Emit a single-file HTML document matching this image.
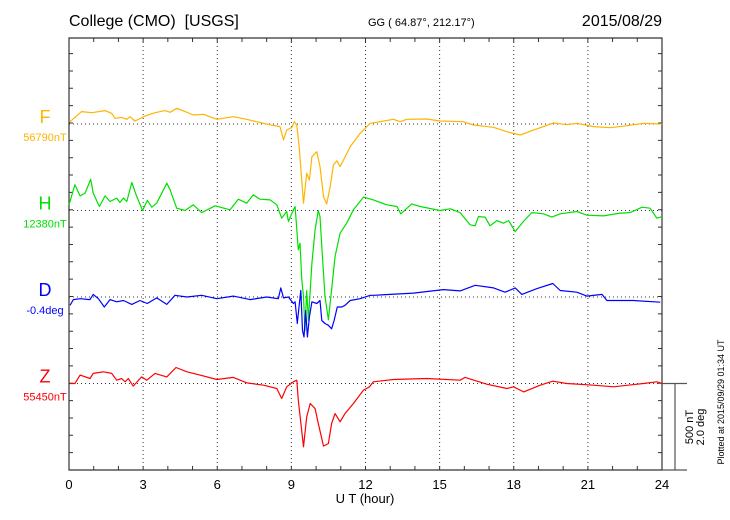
<!DOCTYPE html>
<html><head><meta charset="utf-8">
<style>
body{margin:0;background:#fff;}
svg{display:block;font-family:"Liberation Sans",sans-serif;}
</style></head>
<body>
<svg id="chart" width="730" height="520" viewBox="0 0 730 520">
<text x="69" y="26" font-size="16" fill="#000">College (CMO)&#160; [USGS]</text>
<text x="368" y="26" font-size="11" fill="#000">GG ( 64.87°, 212.17°)</text>
<text x="662" y="26" font-size="16" fill="#000" text-anchor="end">2015/08/29</text>
<text x="365" y="503" font-size="13" text-anchor="middle">U T (hour)</text>
<text transform="translate(693,427) rotate(-90)" font-size="11" text-anchor="middle">500 nT</text>
<text transform="translate(704,427) rotate(-90)" font-size="11" text-anchor="middle">2.0 deg</text>
<text transform="translate(724,402) rotate(-90)" font-size="9" text-anchor="middle">Plotted at 2015/09/29 01:34 UT</text>
<g id="grid"></g><g id="axes"></g><g id="series"></g><g id="labels"></g>
</svg>
<script>
const xTicks = [0,3,6,9,12,15,18,21,24];
const seriesNames = ["F","H","D","Z"];
const seriesBaseLabels = ["56790nT","12380nT","-0.4deg","55450nT"];
const fTimes = [0.04,0.51,0.92,1.46,1.73,1.86,2.13,2.34,2.47,2.67,3.08,3.48,3.89,4.09,4.36,4.70,5.03,5.44,5.98,6.65,7.19,7.73,8.27,8.54,8.68,8.81,9.02,9.12,9.22,9.32,9.49,9.62,9.73,9.83,9.96,10.03,10.16,10.30,10.43,10.57,10.70,10.84,10.97,11.11,11.38,11.78,12.19,12.59,13.13,13.4,13.67,14.48,15.02,15.96,16.37,17.18,17.72,18.26,18.80,19.61,20.15,20.55,21.23,21.90,22.58,23.25,24.0];
const fValues = [13,71,65,77,61,33,38,27,42,17,46,65,77,67,90,71,52,56,27,42,27,8,-8,-15,-92,-35,-19,13,-6,-140,-456,-284,-322,-188,-169,-159,-245,-418,-460,-360,-236,-211,-245,-207,-130,-54,4,13,27,13,27,29,17,13,-6,-19,-44,-63,-35,6,-4,4,-15,-21,-10,4,0];
const hTimes = [0,0.24,0.45,0.65,0.88,0.98,1.23,1.46,1.66,1.93,2.06,2.20,2.34,2.54,2.74,2.98,3.17,3.35,3.55,3.96,4.09,4.36,4.70,5.03,5.37,5.91,6.52,6.85,7.19,7.46,7.73,8.14,8.41,8.61,8.81,8.88,9.08,9.15,9.28,9.35,9.42,9.49,9.55,9.62,9.69,9.76,9.83,9.96,10.09,10.16,10.23,10.36,10.50,10.63,10.77,10.97,11.24,11.51,11.92,12.32,12.86,13.27,13.43,13.87,14.21,15.02,15.43,15.83,16.23,16.44,16.57,16.84,17.04,17.32,17.58,17.79,18.06,18.39,18.73,19.20,19.54,19.88,20.55,20.96,21.63,22.31,22.71,23.19,23.52,23.79,24.0];
const hValues = [33,148,84,100,180,100,23,84,52,71,46,71,52,161,81,0,58,19,42,157,119,13,0,33,-12,27,4,65,42,90,65,61,33,-44,-6,-63,4,23,-226,-188,-399,-494,-690,-460,-632,-460,-303,-111,0,-35,-207,-494,-628,-454,-263,-130,-73,4,77,61,33,23,-19,38,23,0,10,-12,-82,-88,-35,-38,-88,-58,-73,-58,-121,-63,-12,-19,-38,-19,-6,-27,-31,-15,-12,19,13,-44,-35];
const dTimes = [0.04,0.18,0.45,0.85,0.98,1.19,1.43,1.66,1.93,2.20,2.54,2.87,3.17,3.55,3.96,4.29,4.77,5.37,5.98,6.65,7.33,8.0,8.47,8.57,8.68,8.88,9.08,9.15,9.24,9.31,9.38,9.45,9.51,9.58,9.65,9.73,9.83,10.03,10.16,10.23,10.36,10.50,10.63,10.73,10.86,11.04,11.17,11.38,11.78,12.19,12.32,13.0,13.94,15.15,15.83,16.44,17.18,17.65,18.06,18.33,18.93,19.58,19.88,20.55,20.96,21.57,21.77,22.85,23.93];
const dValues = [-0.19,-0.06,-0.04,-0.06,0.06,-0.04,-0.23,-0.06,-0.11,-0.08,-0.17,-0.08,-0.15,-0.02,-0.17,0.04,0,0.04,-0.04,0.02,-0.06,0,-0.04,0.21,-0.02,0,-0.15,-0.11,-0.61,-0.23,0.15,-0.77,-0.92,-0.31,-0.92,-0.46,-0.11,-0.15,-0.08,-0.54,-0.61,-0.65,-0.73,-0.54,-0.23,-0.23,-0.19,-0.08,-0.04,0.04,0.04,0.06,0.09,0.17,0.14,0.27,0.21,0.11,0.21,0.06,0.19,0.31,0.15,0.11,0.02,0.06,-0.08,-0.08,-0.12];
const zTimes = [0.04,0.24,0.45,0.85,0.98,1.39,1.73,1.93,2.13,2.27,2.40,2.60,2.94,3.15,3.48,3.96,4.33,4.77,5.30,5.98,6.65,7.19,7.87,8.41,8.61,8.81,9.08,9.22,9.28,9.49,9.62,9.76,9.96,10.09,10.30,10.50,10.63,10.77,10.97,11.17,11.51,11.92,12.16,12.32,13.13,14.48,15.83,16.03,16.91,17.72,17.99,18.40,19.07,19.58,20.15,21.23,22.04,23.25,23.79,24.0];
const zValues = [0,0,48,29,58,67,58,19,29,10,29,-15,38,19,58,38,92,67,48,23,35,4,-10,-29,-86,-19,10,19,-96,-364,-192,-115,-144,-230,-360,-345,-230,-173,-220,-173,-115,-38,-19,10,23,29,19,35,-4,-29,-19,-48,-10,13,0,-10,-19,0,10,0];

const NS="http://www.w3.org/2000/svg";
const X0=69, X1=662, Y0=38, Y1=470;
const PX_PER_NT=87/500, PX_PER_DEG=87/2;
const baselines=[124,210.5,297,383.5];
const colors=["#ffb400","#00e000","#0000ff","#ff0000"];
const xScale=h=>X0+(X1-X0)*h/24;
function mk(tag,attrs,parent){const e=document.createElementNS(NS,tag);for(const k in attrs)e.setAttribute(k,attrs[k]);parent.appendChild(e);return e;}
const grid=document.getElementById('grid'),axes=document.getElementById('axes'),ser=document.getElementById('series'),lab=document.getElementById('labels');
xTicks.forEach(t=>{ if(t>0&&t<24){const l=mk('line',{x1:xScale(t),x2:xScale(t),y1:Y0,y2:Y1,stroke:'#333','stroke-width':1,'stroke-dasharray':'1,3'},grid);

}});
baselines.forEach(b=>{const l=mk('line',{x1:X0,x2:X1,y1:b,y2:b,stroke:'#333','stroke-width':1,'stroke-dasharray':'1,3'},grid);

});
const fr=mk('path',{d:`M${X0},${Y0}H${X1}V${Y1}H${X0}Z`,fill:'none',stroke:'#333','stroke-width':1.2},axes);


const st=mk('path',{d:`M${X1},383.5H687M675,383.5V${Y1}M${X1},${Y1}H687`,fill:'none',stroke:'#555','stroke-width':1.2},axes);


let td='';
for(let h=1;h<24;h++){const x=xScale(h);td+=`M${x},${Y0}v4M${x},${Y1}v-4`;}
for(let k=1;k<25;k++){const y=Y1-17.35*k;if(y>Y0+1)td+=`M${X0},${y}h4M${X1},${y}h-4`;}
const tk=mk('path',{d:td,stroke:'#333','stroke-width':1},axes);


xTicks.forEach(t=>{const e=mk('text',{x:xScale(t),y:489,'font-size':13,'text-anchor':'middle'},lab);e.textContent=t;

});
const sets=[[fTimes,fValues,PX_PER_NT],[hTimes,hValues,PX_PER_NT],[dTimes,dValues,PX_PER_DEG],[zTimes,zValues,PX_PER_NT]];
sets.forEach((s,i)=>{
  const [ts,vs,k]=s;
  const pts=ts.map((t,j)=>xScale(t).toFixed(1)+','+(baselines[i]-vs[j]*k).toFixed(1)).join(' ');
  const p=mk('polyline',{points:pts,fill:'none',stroke:colors[i],'stroke-width':1.2,'stroke-linejoin':'round'},ser);
  
  
  const n=mk('text',{x:45,y:baselines[i]-1,'font-size':18,'text-anchor':'middle',fill:colors[i]},lab);n.textContent=seriesNames[i];
  
  
  const b=mk('text',{x:45,y:baselines[i]+17,'font-size':11,'text-anchor':'middle',fill:colors[i]},lab);b.textContent=seriesBaseLabels[i];
  
  
});
</script>
</body></html>
